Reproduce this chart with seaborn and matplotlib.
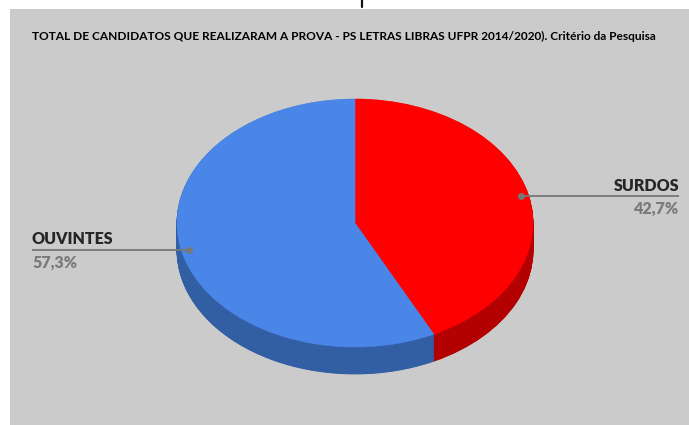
import numpy as np
import matplotlib.pyplot as plt
import seaborn as sns
from matplotlib.patches import Rectangle
from matplotlib.lines import Line2D

categories = ["SURDOS", "OUVINTES"]
shares = [42.7, 57.3]
pct_labels = ["42,7%", "57,3%"]
top_colors = ["#ff0000", "#4a86e8"]
side_colors = ["#b30000", "#325ea3"]
title = ("TOTAL DE CANDIDATOS QUE REALIZARAM A PROVA - PS LETRAS LIBRAS "
         "UFPR 2014/2020). Critério da Pesquisa")

sns.set_theme(style="white")
plt.rcParams['font.family'] = ['Lato', 'DejaVu Sans']

W, H = 689, 425
SQUASH = 124 / 178  # vertical flattening of the tilted pie


def px(x, y):
    # pixel position (from top left) -> data coords
    return x, (H - y) / SQUASH


def fill_edges(wedges, lw):
    for w in wedges:
        w.set_edgecolor(w.get_facecolor())
        w.set_linewidth(lw)


fig = plt.figure(figsize=(W / 100, H / 100), dpi=100)
fig.patch.set_facecolor('white')
fig.add_artist(Rectangle((10 / W, 0), 1 - 10 / W, 1 - 9 / H, transform=fig.transFigure,
                         facecolor='#cbcbcb', edgecolor='none', zorder=0))
# stray descender cut off at the top of the screenshot
fig.add_artist(Line2D([362 / W, 362 / W], [1, 1 - 7 / H], transform=fig.transFigure,
                      color='#111111', lw=1.6))

ax = fig.add_axes([0, 0, 1, 1])
ax.patch.set_alpha(0)

cx, cy = px(355, 223)
radius = 178
depth = 27 / SQUASH

# side of the 3d pie: stack darker pies going down
for off in np.linspace(depth, 0, 45)[:-1]:
    side, _ = ax.pie(shares, colors=side_colors, startangle=90, counterclock=False,
                     radius=radius, center=(cx, cy - off), frame=True)
    fill_edges(side, 0.6)

# top face
wedges, _ = ax.pie(shares, colors=top_colors, startangle=90, counterclock=False,
                   radius=radius, center=(cx, cy), frame=True)
fill_edges(wedges, 0.4)

# leader lines and labels
for w, cat, pct in zip(wedges, categories, pct_labels):
    mid = np.deg2rad((w.theta1 + w.theta2) / 2)
    dx = cx + 0.955 * radius * np.cos(mid)
    dy = cy + 0.955 * radius * np.sin(mid)
    if np.cos(mid) > 0:
        end, ha = 679, 'right'
    else:
        end, ha = 32, 'left'
    line_y = H - dy * SQUASH  # back to pixels
    ax.plot([dx, end], [dy, dy], color='#777777', lw=1.3, solid_capstyle='butt')
    ax.plot(dx, dy, 'o', ms=4, color='#777777')
    ax.text(*px(end, line_y - 5.5), cat, ha=ha, va='baseline', fontsize=11.5,
            fontweight='heavy', color='#262626')
    ax.text(*px(end, line_y + 17.5), pct, ha=ha, va='baseline', fontsize=11.5,
            fontweight='heavy', color='#7a7a7a')

ax.set_aspect('auto')
ax.set_xlim(0, W)
ax.set_ylim(0, H / SQUASH)
ax.axis('off')

fig.text(32 / W, 1 - 40 / H, title, fontsize=8.55, fontweight='bold',
         va='baseline', color='black')

fig.savefig('out.png', dpi=100, facecolor=fig.get_facecolor())
